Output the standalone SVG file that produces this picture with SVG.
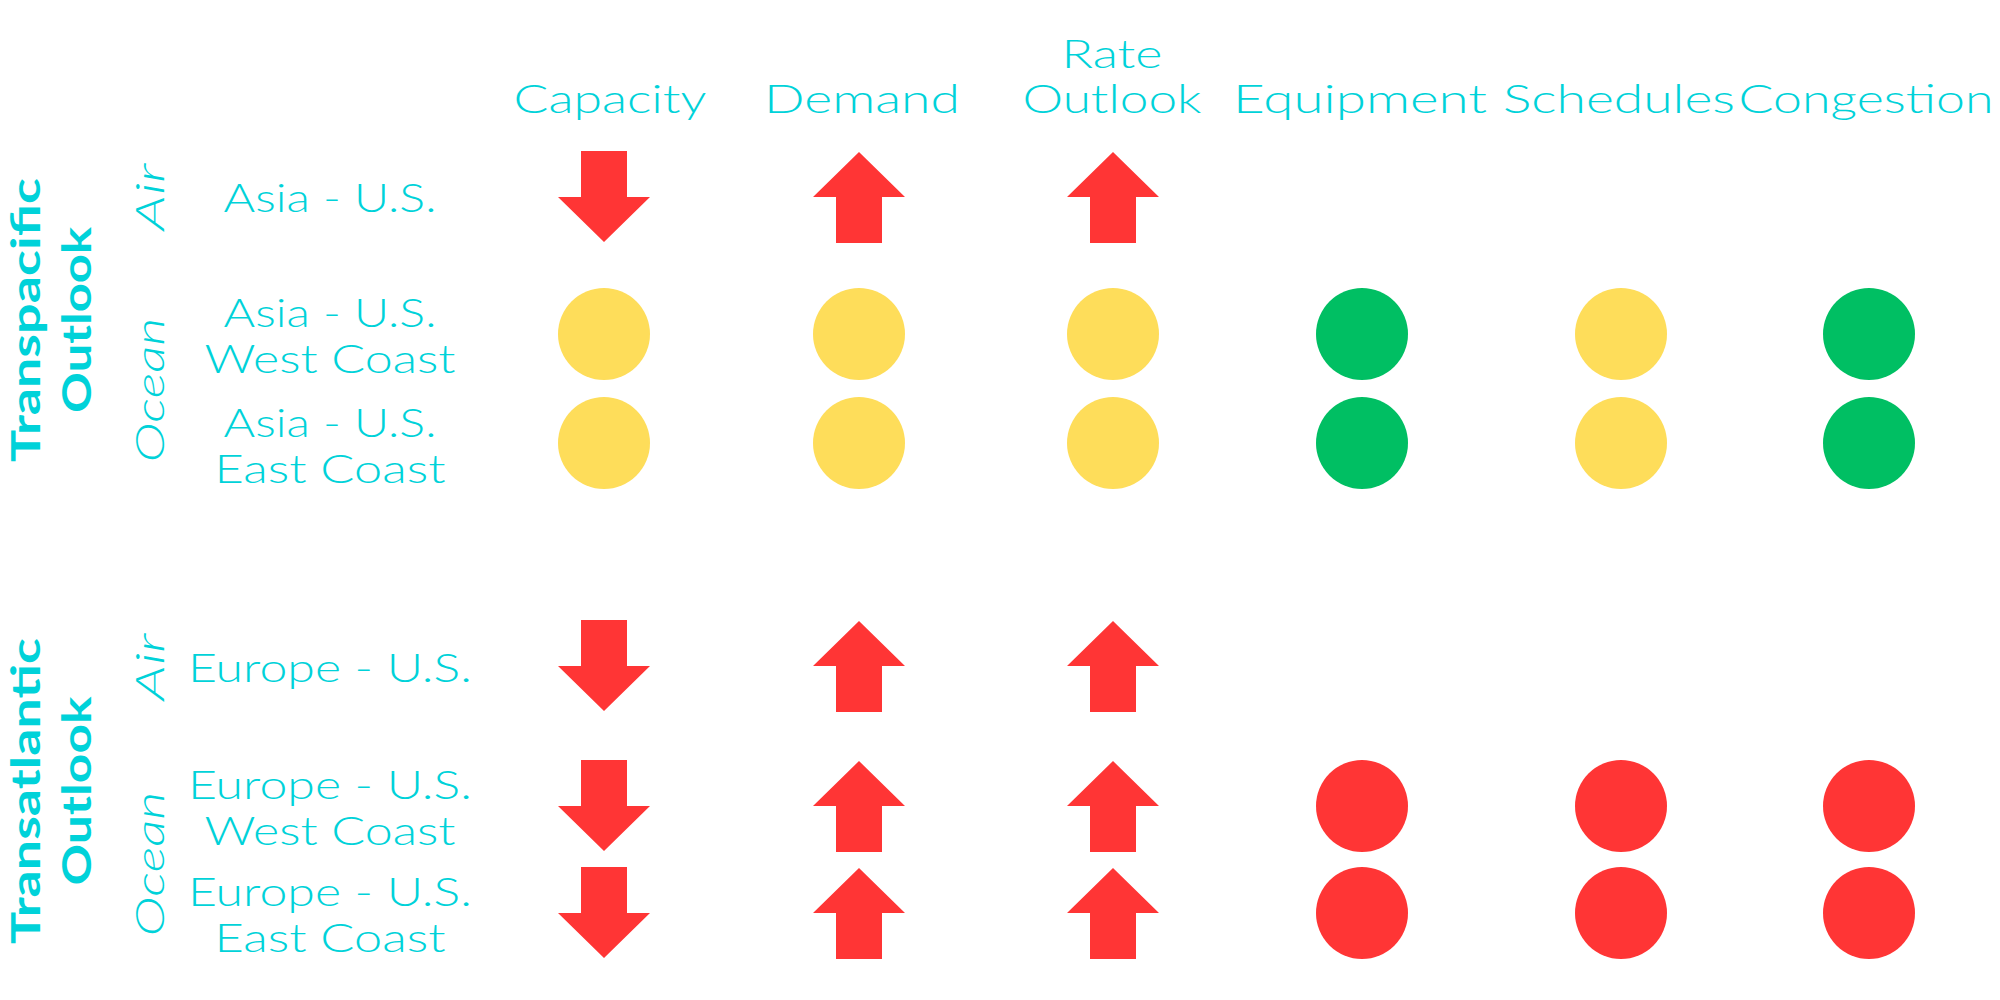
<svg xmlns="http://www.w3.org/2000/svg" xmlns:xlink="http://www.w3.org/1999/xlink" width="2000" height="1000" viewBox="0 0 2000 1000">
<style>
.t{font-family:Lato,"Open Sans","DejaVu Sans",sans-serif;font-weight:300;fill:#00d2d9;font-size:39px;text-anchor:middle}
.b{font-weight:bold;font-size:40px}
.i{font-style:italic}
.y{fill:#fedd5a}.g{fill:#00bf63}.r{fill:#ff3535}
</style>
<defs>
<polygon id="dn" class="r" points="-23,-46 23,-46 23,0 46,0 0,45 -46,0 -23,0"/>
<polygon id="up" class="r" points="-23,46 23,46 23,0 46,0 0,-45 -46,0 -23,0"/>
</defs>
<rect width="2000" height="1000" fill="#fff"/>
<g id="headers">
<text class="t" x="610" y="113" textLength="193" lengthAdjust="spacingAndGlyphs">Capacity</text>
<text class="t" x="862" y="113" textLength="196" lengthAdjust="spacingAndGlyphs">Demand</text>
<text class="t" x="1112" y="68" textLength="101" lengthAdjust="spacingAndGlyphs">Rate</text>
<text class="t" x="1112" y="113" textLength="179" lengthAdjust="spacingAndGlyphs">Outlook</text>
<text class="t" x="1360" y="113" textLength="254" lengthAdjust="spacingAndGlyphs">Equipment</text>
<text class="t" x="1619" y="113" textLength="232" lengthAdjust="spacingAndGlyphs">Schedules</text>
<text class="t" x="1866" y="113" textLength="255" lengthAdjust="spacingAndGlyphs">Congestion</text>
</g>
<g id="transpacific">
<text class="t b" transform="translate(40,320) rotate(-90)" textLength="284" lengthAdjust="spacingAndGlyphs">Transpacific</text>
<text class="t b" transform="translate(91,320) rotate(-90)" textLength="186" lengthAdjust="spacingAndGlyphs">Outlook</text>
<text class="t i" transform="translate(164,197) rotate(-90)" textLength="67" lengthAdjust="spacingAndGlyphs">Air</text>
<text class="t i" transform="translate(164,390) rotate(-90)" textLength="145" lengthAdjust="spacingAndGlyphs">Ocean</text>
<text class="t" x="330" y="212" textLength="213" lengthAdjust="spacingAndGlyphs">Asia - U.S.</text>
<text class="t" x="330" y="327" textLength="213" lengthAdjust="spacingAndGlyphs">Asia - U.S.</text>
<text class="t" x="330" y="373" textLength="251" lengthAdjust="spacingAndGlyphs">West Coast</text>
<text class="t" x="330" y="437" textLength="213" lengthAdjust="spacingAndGlyphs">Asia - U.S.</text>
<text class="t" x="330" y="483" textLength="231" lengthAdjust="spacingAndGlyphs">East Coast</text>
<use href="#dn" x="604" y="197"/><use href="#up" x="859" y="197"/><use href="#up" x="1113" y="197"/>
<circle class="y" cx="604" cy="334" r="46"/><circle class="y" cx="859" cy="334" r="46"/><circle class="y" cx="1113" cy="334" r="46"/>
<circle class="g" cx="1362" cy="334" r="46"/><circle class="y" cx="1621" cy="334" r="46"/><circle class="g" cx="1869" cy="334" r="46"/>
<circle class="y" cx="604" cy="443" r="46"/><circle class="y" cx="859" cy="443" r="46"/><circle class="y" cx="1113" cy="443" r="46"/>
<circle class="g" cx="1362" cy="443" r="46"/><circle class="y" cx="1621" cy="443" r="46"/><circle class="g" cx="1869" cy="443" r="46"/>
</g>
<g id="transatlantic">
<text class="t b" transform="translate(40,791) rotate(-90)" textLength="306" lengthAdjust="spacingAndGlyphs">Transatlantic</text>
<text class="t b" transform="translate(91,791) rotate(-90)" textLength="189" lengthAdjust="spacingAndGlyphs">Outlook</text>
<text class="t i" transform="translate(164,667) rotate(-90)" textLength="67" lengthAdjust="spacingAndGlyphs">Air</text>
<text class="t i" transform="translate(164,864) rotate(-90)" textLength="145" lengthAdjust="spacingAndGlyphs">Ocean</text>
<text class="t" x="330" y="682" textLength="284" lengthAdjust="spacingAndGlyphs">Europe - U.S.</text>
<text class="t" x="330" y="799" textLength="284" lengthAdjust="spacingAndGlyphs">Europe - U.S.</text>
<text class="t" x="330" y="845" textLength="251" lengthAdjust="spacingAndGlyphs">West Coast</text>
<text class="t" x="330" y="906" textLength="284" lengthAdjust="spacingAndGlyphs">Europe - U.S.</text>
<text class="t" x="330" y="952" textLength="231" lengthAdjust="spacingAndGlyphs">East Coast</text>
<use href="#dn" x="604" y="666"/><use href="#up" x="859" y="666"/><use href="#up" x="1113" y="666"/>
<use href="#dn" x="604" y="806"/><use href="#up" x="859" y="806"/><use href="#up" x="1113" y="806"/>
<use href="#dn" x="604" y="913"/><use href="#up" x="859" y="913"/><use href="#up" x="1113" y="913"/>
<circle class="r" cx="1362" cy="806" r="46"/><circle class="r" cx="1621" cy="806" r="46"/><circle class="r" cx="1869" cy="806" r="46"/>
<circle class="r" cx="1362" cy="913" r="46"/><circle class="r" cx="1621" cy="913" r="46"/><circle class="r" cx="1869" cy="913" r="46"/>
</g>
<g id="connectors"/>
</svg>
